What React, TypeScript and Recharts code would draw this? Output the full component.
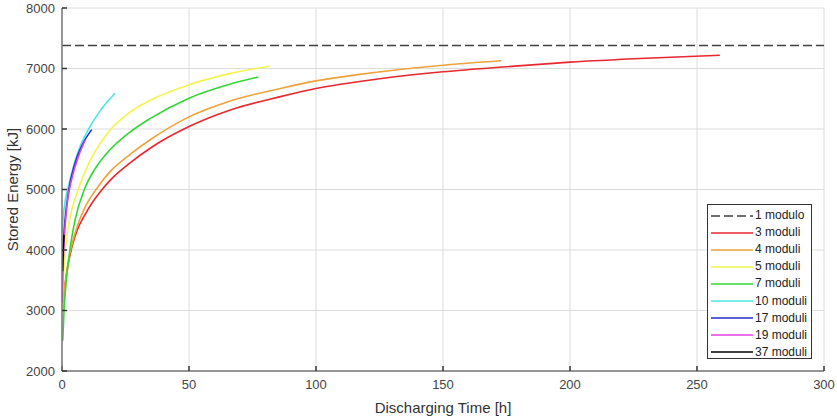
import React from 'react';
import { LineChart, Line, XAxis, YAxis, CartesianGrid, Legend } from 'recharts';

const xTicks = [0, 50, 100, 150, 200, 250, 300];
const yTicks = [2000, 3000, 4000, 5000, 6000, 7000, 8000];

const t1 = [0, 300];
const e1 = [7380, 7380];

const t3 = [0.4, 1, 2, 3.8, 6, 9, 12, 15, 19.6, 26.8, 35, 50, 66, 86, 100, 125, 150, 175, 200, 230, 259];
const e3 = [3050, 3350, 3660, 4030, 4330, 4580, 4790, 4960, 5180, 5440, 5690, 6040, 6310, 6535, 6670, 6830, 6945, 7030, 7105, 7170, 7220];

const t4 = [0.3, 1, 2, 3.5, 6, 9, 13.4, 19, 26.8, 35, 50, 66, 86, 100, 115, 133, 150, 173];
const e4 = [3000, 3350, 3680, 4020, 4390, 4700, 5000, 5300, 5580, 5830, 6200, 6460, 6670, 6795, 6890, 6984, 7055, 7127];

const t5 = [0.1, 0.5, 1.3, 3, 6.4, 12, 18.9, 26.8, 35, 50, 66, 82];
const e5 = [3000, 3500, 4000, 4500, 5000, 5550, 5980, 6280, 6480, 6730, 6915, 7040];

const t7 = [0.3, 0.8, 1.5, 3.1, 5, 9, 13, 18, 26.8, 35, 50, 66, 77.3];
const e7 = [2500, 3000, 3400, 4000, 4470, 5020, 5340, 5615, 5950, 6180, 6510, 6740, 6860];

const t10 = [0.1, 0.5, 1.2, 2.5, 5, 7.5, 10.5, 15, 20.9];
const e10 = [4300, 4550, 4800, 5050, 5450, 5750, 6000, 6300, 6590];

const t17 = [0.1, 0.5, 1.2, 2.5, 5, 8, 11.7];
const e17 = [3650, 4100, 4500, 4950, 5420, 5740, 5990];

const t19 = [0.1, 0.4, 1, 2, 4, 6.5, 9.1];
const e19 = [3130, 3700, 4250, 4750, 5200, 5550, 5810];

const t37 = [0.2, 0.4, 0.6, 0.8];
const e37 = [3650, 3900, 4100, 4250];

const zip = (ts: number[], es: number[]) => ts.map((t, i) => ({ t, e: es[i] }));

const series = [
  { name: '1 modulo', color: '#404040', dash: '9 4', data: zip(t1, e1) },
  { name: '3 moduli', color: '#e8282e', dash: undefined, data: zip(t3, e3) },
  { name: '4 moduli', color: '#eea23a', dash: undefined, data: zip(t4, e4) },
  { name: '5 moduli', color: '#f4f44c', dash: undefined, data: zip(t5, e5) },
  { name: '7 moduli', color: '#33d633', dash: undefined, data: zip(t7, e7) },
  { name: '10 moduli', color: '#4ce6e6', dash: undefined, data: zip(t10, e10) },
  { name: '17 moduli', color: '#1f2ec8', dash: undefined, data: zip(t17, e17) },
  { name: '19 moduli', color: '#e040e4', dash: undefined, data: zip(t19, e19) },
  { name: '37 moduli', color: '#000000', dash: undefined, data: zip(t37, e37) },
];

const font = 'Arial, "Liberation Sans", Helvetica, sans-serif';

const LegendBox = () => (
  <div
    style={{
      width: 105,
      height: 155,
      border: '1px solid #333',
      background: '#fff',
      boxSizing: 'border-box',
      padding: '2px 0 0 3px',
      fontFamily: font,
      fontSize: 12,
      color: '#222',
    }}
  >
    {series.map((s) => (
      <div key={s.name} style={{ display: 'flex', alignItems: 'center', height: 17.1 }}>
        <svg width={43} height={4} style={{ display: 'block' }}>
          <line x1={0} y1={2} x2={42} y2={2} stroke={s.color} strokeWidth={1.6} strokeDasharray={s.dash} />
        </svg>
        <span style={{ marginLeft: 1, whiteSpace: 'nowrap', lineHeight: '17px' }}>{s.name}</span>
      </div>
    ))}
  </div>
);

export default function App() {
  return (
    <div style={{ position: 'fixed', top: 0, left: 0, width: 837, height: 419, background: '#fff' }}>
      <LineChart width={837} height={419} margin={{ top: 8, right: 13, bottom: 0, left: 0 }}>
        <CartesianGrid stroke="#dcdcdc" strokeWidth={1} />
        <XAxis
          dataKey="t"
          type="number"
          domain={[0, 300]}
          ticks={xTicks}
          allowDataOverflow
          height={48}
          tickSize={-5}
          tickMargin={14}
          stroke="#777"
          strokeWidth={1.5}
          tick={{ fill: '#444', fontSize: 13, fontFamily: font }}
          tickLine={{ stroke: '#333', strokeWidth: 1.5 }}
          label={{ value: 'Discharging Time [h]', position: 'center', dy: 13, fill: '#333', fontSize: 15, fontFamily: font }}
        />
        <YAxis
          dataKey="e"
          type="number"
          domain={[2000, 8000]}
          ticks={yTicks}
          allowDataOverflow
          width={62}
          tickSize={-5}
          tickMargin={12}
          stroke="#777"
          strokeWidth={1.5}
          tick={{ fill: '#444', fontSize: 13, fontFamily: font }}
          tickLine={{ stroke: '#333', strokeWidth: 1.5 }}
          label={{ value: 'Stored Energy [kJ]', angle: -90, position: 'center', dx: -18, fill: '#333', fontSize: 15, fontFamily: font }}
        />
        {series.map((s) => (
          <Line
            key={s.name}
            data={s.data}
            dataKey="e"
            name={s.name}
            type="monotone"
            stroke={s.color}
            strokeWidth={1.6}
            strokeDasharray={s.dash}
            dot={false}
            activeDot={false}
            isAnimationActive={false}
          />
        ))}
        <Legend
          layout="horizontal"
          verticalAlign="middle"
          align="center"
          wrapperStyle={{ position: 'absolute', left: 707, top: 204, width: 105, height: 155 }}
          content={() => <LegendBox />}
        />
      </LineChart>
    </div>
  );
}
